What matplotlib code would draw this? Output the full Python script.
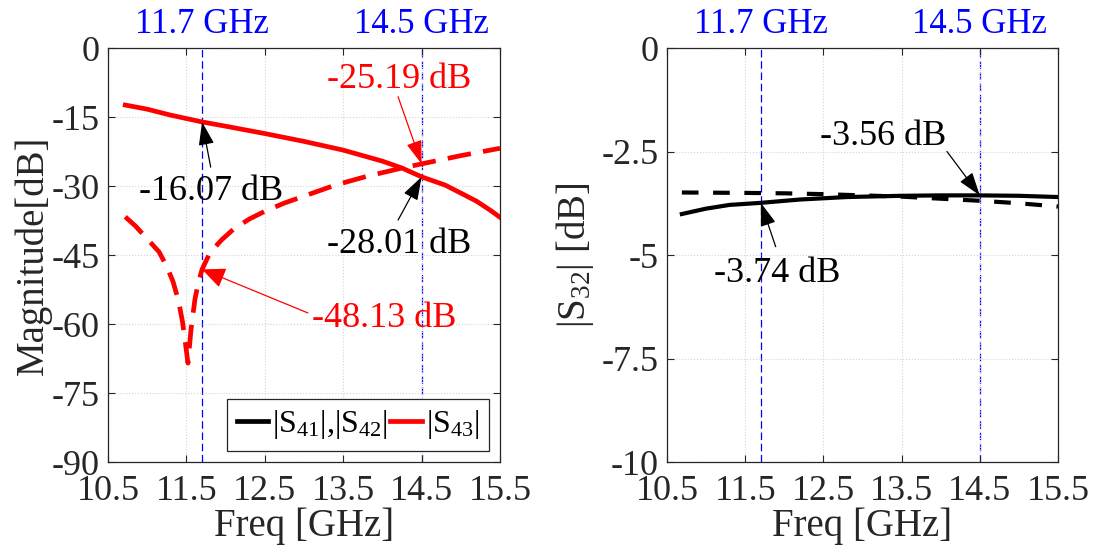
import numpy as np
import matplotlib
matplotlib.use("Agg")
import matplotlib.pyplot as plt
from matplotlib.lines import Line2D

plt.rcParams["font.family"] = ["Liberation Serif", "DejaVu Serif"]
plt.rcParams["mathtext.fontset"] = "custom"
plt.rcParams["mathtext.rm"] = "Liberation Serif"
plt.rcParams["mathtext.it"] = "Liberation Serif:italic"
plt.rcParams["mathtext.default"] = "rm"

# ---- data ----
f_s41 = [10.72, 11.0, 11.3, 11.7, 12.0, 12.5, 13.0, 13.5, 14.0, 14.25, 14.5, 14.8, 15.03, 15.2, 15.37, 15.5]
s41 = [-12.4, -13.3, -14.6, -16.07, -17.0, -18.6, -20.3, -22.2, -24.6, -26.1, -28.01, -29.8, -31.8, -33.3, -35.2, -36.8]

f_s43 = [10.72, 10.85, 11.0, 11.15, 11.25, 11.33, 11.40, 11.45, 11.49, 11.52, 11.56, 11.61,
         11.65, 11.70, 11.80, 11.95, 12.1, 12.3, 12.5, 12.75, 13.0, 13.4, 13.8, 14.2, 14.5, 15.0, 15.5]
s43 = [-36.7, -38.7, -41.5, -44.3, -47.5, -50.8, -55.0, -59.5, -64.5, -68.5, -61.0, -54.5,
       -51.2, -48.13, -44.5, -41.7, -39.4, -37.2, -35.5, -33.7, -32.2, -29.8, -27.9, -26.3, -25.19, -23.4, -21.8]

f_s32 = [10.69, 11.0, 11.3, 11.7, 12.2, 12.8, 13.5, 14.0, 14.5, 15.0, 15.5]
s32 = [-4.01, -3.88, -3.79, -3.74, -3.66, -3.60, -3.57, -3.56, -3.56, -3.57, -3.60]

f_s32b = [10.69, 11.5, 12.0, 12.5, 13.0, 13.5, 14.0, 14.5, 15.0, 15.5]
s32b = [-3.49, -3.50, -3.51, -3.53, -3.56, -3.59, -3.64, -3.69, -3.75, -3.83]

marker_freqs = [11.7, 14.5]
marker_labels = ["11.7 GHz", "14.5 GHz"]
xticks = [10.5, 11.5, 12.5, 13.5, 14.5, 15.5]

gray = "#262626"
red = "#ff0000"
blue = "#0000ff"

fig = plt.figure(figsize=(10.97, 5.59), dpi=100)
ax1 = fig.add_axes([0.09845, 0.17352, 0.35734, 0.74061])
ax2 = fig.add_axes([0.60802, 0.17352, 0.35643, 0.74061])


def style_axes(ax, yticks, ylim):
    ax.set_xlim(10.5, 15.5)
    ax.set_ylim(*ylim)
    ax.set_xticks(xticks)
    ax.set_xticklabels([f"{t:g}" for t in xticks])
    ax.set_yticks(yticks)
    ax.set_yticklabels([f"{t:g}" for t in yticks])
    ax.tick_params(direction="in", top=True, right=True, length=5, width=0.8,
                   colors=gray, labelsize=26, labelcolor=gray)
    ax.tick_params(axis="x", pad=9)
    ax.tick_params(axis="y", pad=6)
    ax.grid(True, linestyle=":", color="#d4d4d4", linewidth=0.8)
    for s in ax.spines.values():
        s.set_color(gray)
        s.set_linewidth(0.9)
    for fq, lab in zip(marker_freqs, marker_labels):
        ax.axvline(fq, color=blue, linestyle=(0, (6, 3)), linewidth=0.9, zorder=1)
        ax.text(fq, 1.037, lab, transform=ax.get_xaxis_transform(), color=blue,
                fontsize=25, ha="center", va="baseline")
    ax.set_xlabel("Freq [GHz]", fontsize=28, color=gray, labelpad=0)


def arrow(ax, tip, start, color, hw=0.3, hl=0.9):
    ax.annotate("", xy=tip, xytext=start,
                arrowprops=dict(arrowstyle=f"-|>,head_length={hl},head_width={hw}",
                                color=color, lw=0.9, shrinkA=0, shrinkB=0,
                                mutation_scale=16))


# ---- left panel ----
style_axes(ax1, [-90, -75, -60, -45, -30, -15, 0], (-90, 0))
ax1.plot(f_s41, s41, color=red, linewidth=3.4, zorder=3)
ax1.plot(f_s43, s43, color=red, linewidth=3.4, linestyle=(0, (5, 2.6)), zorder=3)
ax1.set_ylabel("Magnitude[dB]", fontsize=28, color=gray, labelpad=0)

ax1.text(11.81, -33.0, "-16.07 dB", fontsize=26, ha="center", va="baseline", color="black")
arrow(ax1, (11.7, -16.07), (11.81, -25.9), "black")
ax1.text(14.21, -44.6, "-28.01 dB", fontsize=26, ha="center", va="baseline", color="black")
arrow(ax1, (14.5, -28.01), (14.2, -37.4), "black")
ax1.text(14.21, -8.7, "-25.19 dB", fontsize=26, ha="center", va="baseline", color=red)
arrow(ax1, (14.5, -25.19), (14.2, -10.6), red)
ax1.text(14.02, -60.65, "-48.13 dB", fontsize=26, ha="center", va="baseline", color=red)
arrow(ax1, (11.7, -48.13), (13.05, -57.6), red, hw=0.4)

handles = [Line2D([], [], color="black", linewidth=3.4),
           Line2D([], [], color=red, linewidth=3.4)]
leg = ax1.legend(handles, [r"|S$_{41}$|,|S$_{42}$|", r"|S$_{43}$|"], ncol=2,
                 loc="lower right", fontsize=23, frameon=True, fancybox=False,
                 handlelength=1.0, handletextpad=0.1, columnspacing=0.1,
                 borderpad=0.3, borderaxespad=0.35, labelspacing=0.2)
leg.get_frame().set_edgecolor(gray)
leg.get_frame().set_linewidth(0.9)
leg.get_frame().set_alpha(1)

# ---- right panel ----
style_axes(ax2, [-10, -7.5, -5, -2.5, 0], (-10, 0))
ax2.plot(f_s32, s32, color="black", linewidth=3.0, zorder=3)
ax2.plot(f_s32b, s32b, color="black", linewidth=3.0, linestyle=(0, (4, 3.5)), zorder=3)
ax2.set_ylabel(r"|S$_{32}$| [dB]", fontsize=28, color=gray, labelpad=4)

ax2.text(13.27, -2.34, "-3.56 dB", fontsize=26, ha="center", va="baseline", color="black")
arrow(ax2, (14.5, -3.56), (14.08, -2.50), "black")
ax2.text(11.91, -5.65, "-3.74 dB", fontsize=26, ha="center", va="baseline", color="black")
arrow(ax2, (11.7, -3.74), (11.89, -4.80), "black")

fig.savefig("out.png", dpi=100)
